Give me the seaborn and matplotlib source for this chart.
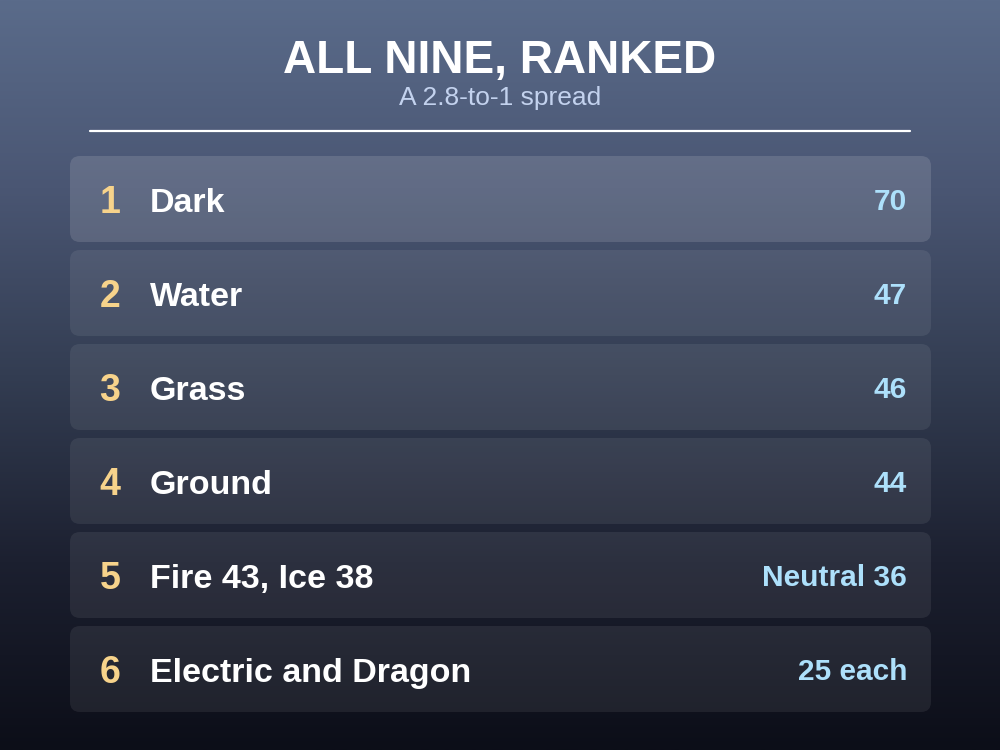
import numpy as np
import matplotlib.pyplot as plt
import seaborn as sns
from matplotlib.colors import LinearSegmentedColormap
from matplotlib.patches import FancyBboxPatch

# Data
ranks = [1, 2, 3, 4, 5, 6]
labels = ["Dark", "Water", "Grass", "Ground", "Fire 43, Ice 38", "Electric and Dragon"]
values = ["70", "47", "46", "44", "Neutral 36", "25 each"]

title = "ALL NINE, RANKED"
subtitle = "A 2.8-to-1 spread"

sns.set_theme(style="white")
plt.rcParams['font.family'] = ['Liberation Sans', 'DejaVu Sans']

fig = plt.figure(figsize=(10, 7.5), dpi=100)
ax = fig.add_axes([0, 0, 1, 1])
ax.set_xlim(0, 1000)
ax.set_ylim(750, 0)
ax.axis('off')

# Background gradient
bg = LinearSegmentedColormap.from_list(
    'bg', ['#5a6b8a', '#4a5673', '#333d52', '#1c2030', '#0c0e18'])
grad = np.linspace(0, 1, 256).reshape(-1, 1)
ax.imshow(grad, cmap=bg, extent=[0, 1000, 750, 0], aspect='auto', zorder=0)

# Header
ax.text(500, 73, title, ha='center', va='baseline', fontsize=33,
        fontweight='bold', color='white', zorder=3)
ax.text(500, 105, subtitle, ha='center', va='baseline', fontsize=19,
        color='#c3d2ee', zorder=3)
ax.plot([90, 910], [130.5, 130.5], color='white', lw=1.6, zorder=3)

# Rows
top0, pitch, h = 156, 94, 86
for i, (r, lab, val) in enumerate(zip(ranks, labels, values)):
    y0 = top0 + i * pitch
    alpha = 0.13 if i == 0 else 0.075
    box = FancyBboxPatch((70, y0), 861, h,
                         boxstyle="round,pad=0,rounding_size=10",
                         facecolor='white', edgecolor='none', alpha=alpha,
                         zorder=1)
    ax.add_patch(box)
    ax.text(110, y0 + 57, str(r), ha='center', va='baseline', fontsize=27,
            fontweight='bold', color='#f7d38b', zorder=3)
    ax.text(150, y0 + 56, lab, ha='left', va='baseline', fontsize=24.5,
            fontweight='bold', color='white', zorder=3)
    ax.text(907, y0 + 54.5, val, ha='right', va='baseline', fontsize=21.5,
            fontweight='bold', color='#ade0fb', zorder=3)

fig.savefig('out.png', dpi=100)
